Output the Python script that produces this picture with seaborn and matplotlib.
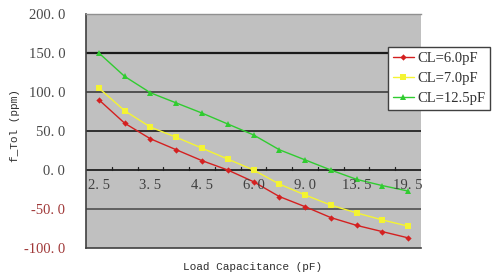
import matplotlib
matplotlib.use("Agg")
import matplotlib.pyplot as plt
import seaborn as sns
import pandas as pd
import numpy as np

categories = ["2.5", "3.0", "3.5", "4.0", "4.5", "5.0", "6.0", "7.0", "9.0", "11.0", "13.5", "16.0", "19.5"]
cl_6_0 = [90, 60, 40, 26, 12, 0, -15, -34, -47, -61, -71, -79, -87]
cl_7_0 = [105, 76, 55, 42, 28, 14, 0, -18, -32, -45, -55, -64, -72]
cl_12_5 = [150, 120, 99, 86, 73, 59, 45, 26, 13, 0, -12, -20, -27]
series_names = ["CL=6.0pF", "CL=7.0pF", "CL=12.5pF"]
y_ticks = [-100, -50, 0, 50, 100, 150, 200]

df = pd.DataFrame({
    "cap": categories * 3,
    "pos": list(range(len(categories))) * 3,
    "tol": cl_6_0 + cl_7_0 + cl_12_5,
    "series": [series_names[0]] * 13 + [series_names[1]] * 13 + [series_names[2]] * 13,
})

sns.set_style("white")
plt.rcParams["font.family"] = ["Liberation Serif", "DejaVu Serif"]

fig = plt.figure(figsize=(5.0, 2.76), dpi=100)
ax = fig.add_axes([86 / 500, 1 - 248 / 276, (421 - 86) / 500, (248 - 14) / 276])
ax.set_facecolor("#c0c0c0")

palette = {series_names[0]: "#d42020", series_names[1]: "#f4f432", series_names[2]: "#30cc30"}
markers = {series_names[0]: "D", series_names[1]: "s", series_names[2]: "^"}
sizes = {series_names[0]: 3.2, series_names[1]: 4.2, series_names[2]: 5}

for name in series_names:
    sub = df[df["series"] == name]
    sns.lineplot(data=sub, x="pos", y="tol", ax=ax, color=palette[name], marker=markers[name],
                 markersize=sizes[name], markeredgewidth=0, linewidth=1.0, label=name)

ax.set_xlim(-0.5, len(categories) - 0.5)
ax.set_ylim(-100, 200)

# gridlines
for yv, c, lw in [(150, "#1a1a1a", 1.6), (100, "#505050", 1.4), (50, "#303030", 1.4), (-50, "#505050", 1.2)]:
    ax.axhline(yv, color=c, lw=lw, zorder=1)
ax.axhline(0, color="#202020", lw=1.3, zorder=1)

# x category ticks at boundaries on zero line
for b in np.arange(0.5, len(categories) - 0.5, 1.0):
    ax.plot([b, b], [0, 4], color="#202020", lw=0.9, zorder=1)
ax.set_xticks([])
for i, lab in enumerate(categories):
    if i % 2 == 0:
        ax.text(i, -11, lab.replace(".", ". "), ha="center", va="top", fontsize=10.5, color="#404040")

ax.set_yticks(y_ticks)
ax.set_yticklabels([f"{v:.1f}".replace(".", ". ") for v in y_ticks], fontsize=10.5)
for t, v in zip(ax.get_yticklabels(), y_ticks):
    t.set_color("#a03838" if v < 0 else "#484848")
ax.tick_params(axis="y", length=0, pad=15)

ax.spines["top"].set_color("#909090")
ax.spines["top"].set_linewidth(1.0)
ax.spines["right"].set_visible(False)
ax.spines["left"].set_color("#404040")
ax.spines["left"].set_linewidth(1.2)
ax.spines["bottom"].set_color("#404040")
ax.spines["bottom"].set_linewidth(1.2)

ax.set_xlabel("")
ax.set_ylabel("")
fig.text(15 / 500, 1 - 126 / 276, "f_Tol (ppm)", rotation=90, ha="center", va="center",
         fontsize=8, family="Liberation Mono", color="#303030")
fig.text(253 / 500, 1 - 267 / 276, "Load Capacitance (pF)", ha="center", va="center",
         fontsize=8, family="Liberation Mono", color="#303030")

leg = ax.legend(loc="upper left", bbox_to_anchor=(388 / 500, 1 - 47 / 276), bbox_transform=fig.transFigure,
                frameon=True, fancybox=False, fontsize=10.5, handlelength=1.4, borderpad=0.35,
                labelspacing=0.45, handletextpad=0.25, borderaxespad=0)
leg.get_frame().set_edgecolor("#404040")
leg.get_frame().set_linewidth(1.0)
leg.get_frame().set_facecolor("white")
leg.get_frame().set_alpha(1)
for t in leg.get_texts():
    t.set_color("#303030")

fig.savefig("out.png", dpi=100, facecolor="white")
